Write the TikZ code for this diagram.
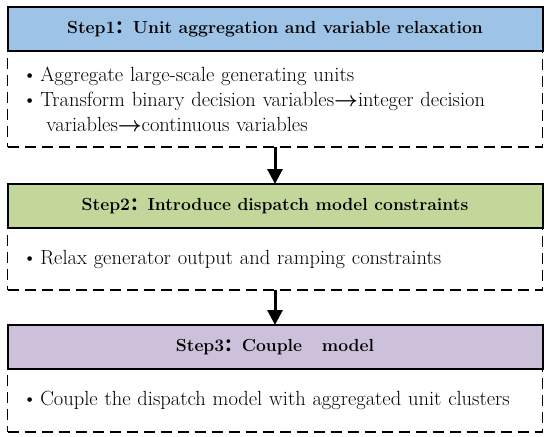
\documentclass[tikz,border=0pt]{standalone}
\usepackage{fontspec}
\usepackage{xcolor}
\usepackage{tikz}
\usetikzlibrary{positioning,arrows.meta}
\newfontfamily\cjkfont{Noto Sans CJK SC}
\definecolor{headblue}{RGB}{157,195,230}
\definecolor{headgreen}{RGB}{196,215,155}
\definecolor{headpurple}{RGB}{204,192,218}
\newcommand{\fwcolon}{{\cjkfont ：}}
\newcommand{\barrow}{{\boldmath$\rightarrow$}}
\newcommand{\itembullet}{\textbullet\hspace{3pt}}

\begin{document}
\begin{tikzpicture}[x=1pt,y=1pt,
  stephead/.style={draw,line width=2pt,outer sep=0pt,minimum width=535pt,minimum height=44pt,inner sep=0pt,font=\fontsize{17.5}{20}\selectfont\bfseries},
  stepbody/.style={draw,line width=1.3pt,outer sep=0pt,dash pattern=on 11pt off 6pt,minimum width=535pt,text width=505pt,align=left,inner xsep=15pt,inner ysep=0pt,font=\fontsize{20.5}{25}\selectfont},
  flow/.style={line width=3pt,-{Triangle[length=15pt,width=15pt]}}]
\useasboundingbox (0,0) rectangle (550,-437);

% Step 1
\node[stephead,fill=headblue] (head1) at (275,-29) {Step1\fwcolon Unit aggregation and variable relaxation};
\node[stepbody,minimum height=96pt,below=0pt of head1] (body1) {\itembullet Aggregate large-scale generating units\\
\itembullet Transform binary decision variables\barrow integer decision\\
\hspace*{24pt}variables\barrow continuous variables};

% Step 2
\node[stephead,fill=headgreen,below=37pt of body1] (head2) {Step2\fwcolon Introduce dispatch model constraints};
\node[stepbody,minimum height=62pt,below=0pt of head2] (body2) {\itembullet Relax generator output and ramping constraints};

% Step 3
\node[stephead,fill=headpurple,below=35pt of body2] (head3) {Step3\fwcolon Couple\ \ \ model};
\node[stepbody,minimum height=63pt,below=0pt of head3] (body3) {\itembullet Couple the dispatch model with aggregated unit clusters};

% Flow arrows
\draw[flow] (body1.south) -- (head2.north);
\draw[flow] (body2.south) -- (head3.north);
\end{tikzpicture}
\end{document}
